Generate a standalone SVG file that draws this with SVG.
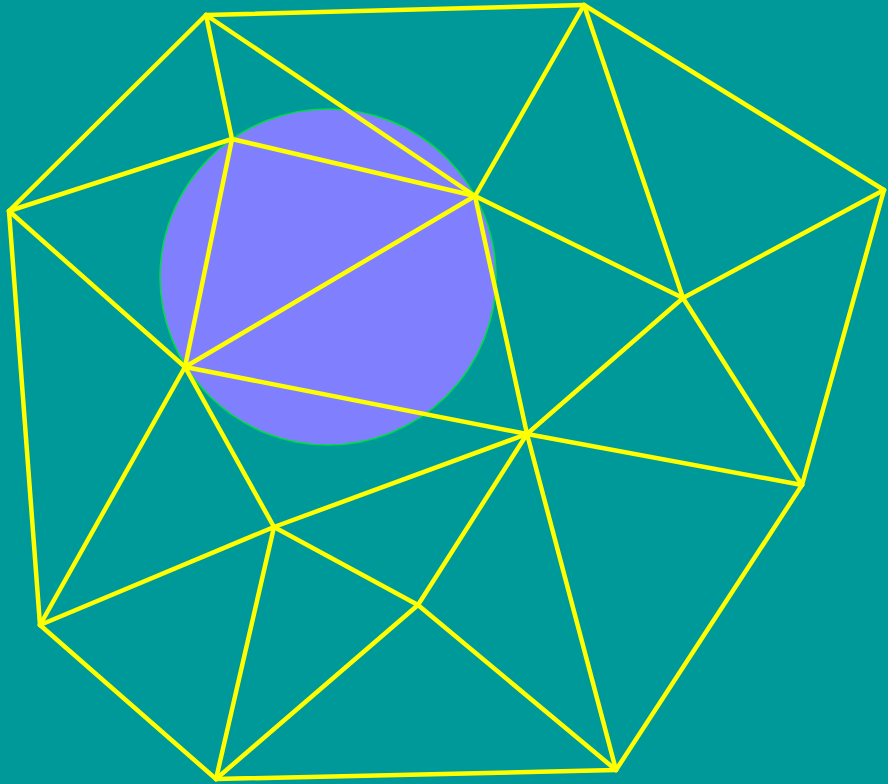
<svg xmlns="http://www.w3.org/2000/svg" width="888" height="784" viewBox="0 0 888 784">
<style>
.e{stroke:#ffff00;stroke-width:4.5;stroke-linecap:round;fill:none}
</style>
<rect x="0" y="0" width="888" height="784" fill="#009999"/>
<g id="circle"><circle cx="328" cy="277" r="168" fill="#8080ff" stroke="#00dd44" stroke-width="1.5"/></g>
<g id="edges" class="e">
<line x1="206" y1="15" x2="584" y2="5"/>
<line x1="206" y1="15" x2="9" y2="211"/>
<line x1="206" y1="15" x2="232" y2="139"/>
<line x1="206" y1="15" x2="475" y2="196"/>
<line x1="584" y1="5" x2="475" y2="196"/>
<line x1="584" y1="5" x2="683" y2="298"/>
<line x1="584" y1="5" x2="884" y2="190"/>
<line x1="884" y1="190" x2="683" y2="298"/>
<line x1="884" y1="190" x2="802" y2="485"/>
<line x1="9" y1="211" x2="232" y2="139"/>
<line x1="9" y1="211" x2="185" y2="367"/>
<line x1="9" y1="211" x2="40" y2="625"/>
<line x1="232" y1="139" x2="475" y2="196"/>
<line x1="232" y1="139" x2="185" y2="367"/>
<line x1="475" y1="196" x2="185" y2="367"/>
<line x1="475" y1="196" x2="683" y2="298"/>
<line x1="475" y1="196" x2="527" y2="434"/>
<line x1="683" y1="298" x2="527" y2="434"/>
<line x1="683" y1="298" x2="802" y2="485"/>
<line x1="185" y1="367" x2="527" y2="434"/>
<line x1="185" y1="367" x2="274" y2="527"/>
<line x1="185" y1="367" x2="40" y2="625"/>
<line x1="527" y1="434" x2="802" y2="485"/>
<line x1="527" y1="434" x2="274" y2="527"/>
<line x1="527" y1="434" x2="418" y2="605"/>
<line x1="527" y1="434" x2="616" y2="770"/>
<line x1="802" y1="485" x2="616" y2="770"/>
<line x1="274" y1="527" x2="40" y2="625"/>
<line x1="274" y1="527" x2="216" y2="779"/>
<line x1="274" y1="527" x2="418" y2="605"/>
<line x1="40" y1="625" x2="216" y2="779"/>
<line x1="418" y1="605" x2="216" y2="779"/>
<line x1="418" y1="605" x2="616" y2="770"/>
<line x1="216" y1="779" x2="616" y2="770"/>
</g>
</svg>
